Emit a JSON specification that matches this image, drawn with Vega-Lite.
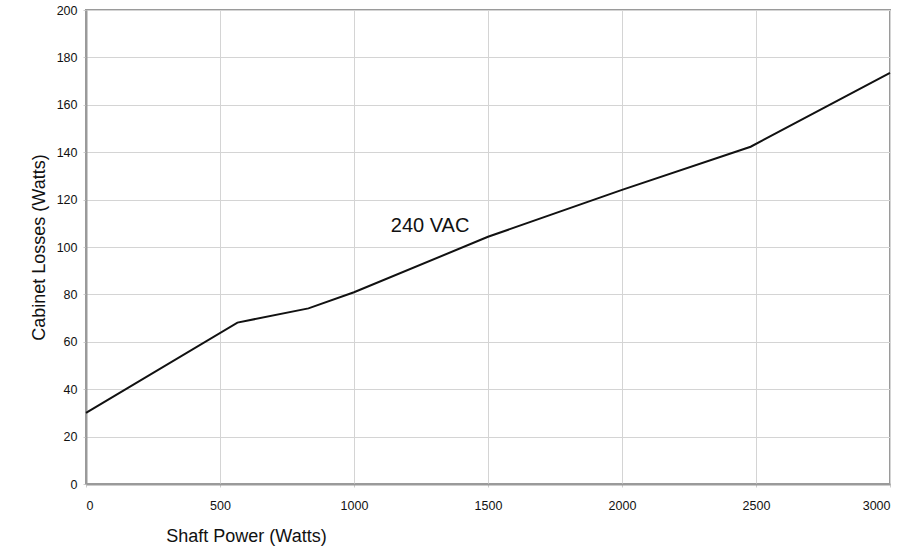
{
  "$schema": "https://vega.github.io/schema/vega-lite/v6.json",
  "width": 804,
  "height": 474,
  "autosize": {"type": "none"},
  "padding": {"left": 86, "top": 10, "right": 33, "bottom": 68},
  "background": "white",
  "config": {
    "font": "Liberation Sans",
    "view": {"stroke": "#9a9a9a", "strokeWidth": 2},
    "axis": {
      "gridColor": "#d4d4d4",
      "gridWidth": 1,
      "domainColor": "#9a9a9a",
      "domainWidth": 2,
      "tickColor": "#cccccc",
      "tickSize": 3,
      "labelFont": "Liberation Sans",
      "labelFontSize": 12.5,
      "labelColor": "#111111",
      "titleFont": "Liberation Sans",
      "titleFontSize": 18,
      "titleFontWeight": "normal",
      "titleColor": "#111111"
    }
  },
  "datasets": {
    "series": [
      {"power": 0, "loss": 30.0},
      {"power": 565, "loss": 68.1},
      {"power": 830, "loss": 74.1},
      {"power": 1000, "loss": 80.9},
      {"power": 1500, "loss": 104.3},
      {"power": 2000, "loss": 124.1},
      {"power": 2480, "loss": 142.3},
      {"power": 3000, "loss": 173.5}
    ],
    "labels": [
      {"power": 1284, "loss": 108.9, "text": "240 VAC"}
    ]
  },
  "layer": [
    {
      "data": {"name": "series"},
      "mark": {"type": "line", "color": "#111111", "strokeWidth": 2},
      "encoding": {
        "x": {
          "field": "power",
          "type": "quantitative",
          "scale": {"domain": [0, 3000], "nice": false},
          "axis": {
            "values": [0, 500, 1000, 1500, 2000, 2500, 3000],
            "format": "d",
            "title": "Shaft Power (Watts)",
            "labelPadding": 12,
            "titleX": 160,
            "titleY": 57,
            "titleAlign": "center",
            "titleBaseline": "alphabetic"
          }
        },
        "y": {
          "field": "loss",
          "type": "quantitative",
          "scale": {"domain": [0, 200], "nice": false},
          "axis": {
            "values": [0, 20, 40, 60, 80, 100, 120, 140, 160, 180, 200],
            "format": "d",
            "title": "Cabinet Losses (Watts)",
            "labelPadding": 6,
            "titlePadding": 8
          }
        }
      }
    },
    {
      "data": {"name": "labels"},
      "mark": {"type": "text", "font": "Liberation Sans", "fontSize": 20, "color": "#111111", "align": "center", "baseline": "middle"},
      "encoding": {
        "x": {"field": "power", "type": "quantitative"},
        "y": {"field": "loss", "type": "quantitative"},
        "text": {"field": "text"}
      }
    }
  ]
}
